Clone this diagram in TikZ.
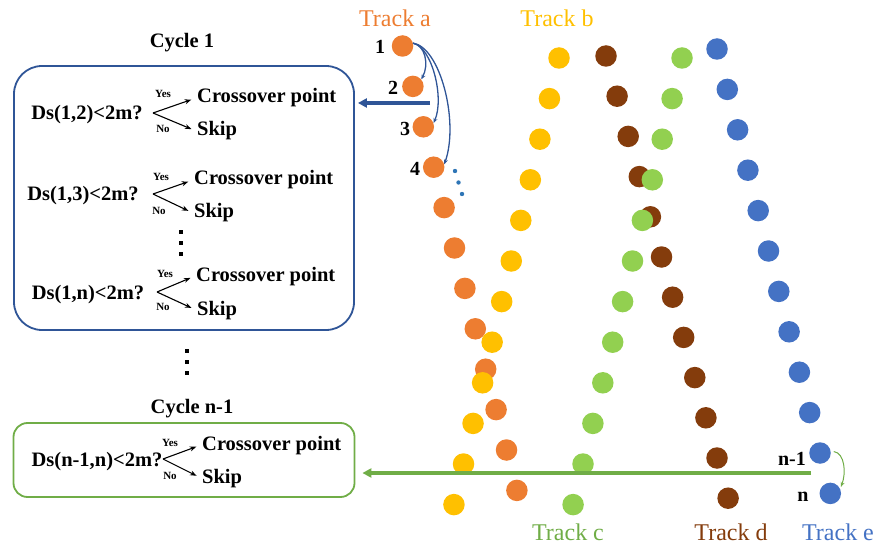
\documentclass[tikz,border=0pt]{standalone}
\usepackage{fontspec}
\setmainfont{Liberation Serif}
\usetikzlibrary{arrows.meta,calc}

\definecolor{trkA}{HTML}{ED7D31}
\definecolor{trkB}{HTML}{FFC000}
\definecolor{trkC}{HTML}{92D050}
\definecolor{trkCtext}{HTML}{70AD47}
\definecolor{trkD}{HTML}{843C0C}
\definecolor{trkE}{HTML}{4472C4}
\definecolor{navy}{HTML}{2F5597}
\definecolor{dotblue}{HTML}{2E75B6}
\definecolor{boxgreen}{HTML}{70AD47}

\begin{document}
\begin{tikzpicture}[x=1pt,y=-1pt,
  pt/.style={circle,inner sep=0pt,minimum size=21.5pt},
  txt/.style={font=\bfseries\fontsize{20.5}{22}\selectfont,inner sep=1pt,text height=14pt,text depth=4pt},
  tiny/.style={font=\bfseries\fontsize{11}{12}\selectfont,inner sep=0pt},
  num/.style={font=\bfseries\fontsize{20}{22}\selectfont,inner sep=0pt},
  trk/.style={font=\fontsize{24}{26}\selectfont,inner sep=0pt},
  fk/.style={line width=1.1pt,-{Stealth[length=6.5pt,width=5pt]},shorten >=5pt},
  sq/.style={rectangle,fill=black,inner sep=0pt,minimum size=3.6pt},
  hop/.style={navy,line width=1.3pt,-{Stealth[length=5pt,width=4pt]}},
]
\useasboundingbox (0,0) rectangle (877,545);

% ---------- tracks of points ----------
\foreach \i in {1,...,12} {
  \node[pt,fill=trkA] (a\i) at ({402.5+(\i-1)*10.4},{46+(\i-1)*40.4}) {};
}
\foreach \i in {1,...,12} {
  \node[pt,fill=trkB] (b\i) at ({559-(\i-1)*9.55},{58+(\i-1)*40.6}) {};
}
\foreach \i in {1,...,12} {
  \node[pt,fill=trkD] (d\i) at ({606+(\i-1)*11.1},{56+(\i-1)*40.2}) {};
}
\foreach \i in {1,...,12} {
  \node[pt,fill=trkC] (c\i) at ({682-(\i-1)*9.9},{58+(\i-1)*40.6}) {};
}
\foreach \i in {1,...,12} {
  \node[pt,fill=trkE] (e\i) at ({717+(\i-1)*10.3},{49+(\i-1)*40.4}) {};
}

% track names
\node[trk,text=trkA] (ta) at (395,18) {Track a};
\node[trk,text=trkB] (tb) at (557,18) {Track b};
\node[trk,text=trkCtext] (tc) at (568,532) {Track c};
\node[trk,text=trkD] (td) at (731,532) {Track d};
\node[trk,text=trkE] (te) at (838,532) {Track e};

% point indices
\node[num] (n1) at (380,47) {1};
\node[num] (n2) at (393,88) {2};
\node[num] (n3) at (405,129) {3};
\node[num] (n4) at (415,169) {4};
\node[num] (nm) at (792,459) {n-1};
\node[num] (nn) at (803,497) {n};

% comparisons from point 1
\draw[hop] (a1.15) .. controls +(12,2) and +(8,-15) .. (a2.40);
\draw[hop] (a1.15) .. controls +(19,4) and +(11,-25) .. (a3.20);
\draw[hop] (a1.15) .. controls +(27,4) and +(15,-43) .. (a4.15);
\foreach \p/\q in {455/171,458.5/182.5,462/194}
  \fill[dotblue] (\p,\q) circle (2.2pt);

% last comparison
\draw[boxgreen,line width=1pt,-{Stealth[length=5pt,width=4pt]},shorten <=3pt,shorten >=2pt]
  (e11.10) .. controls +(14,2) and +(6,-16) .. (e12.25);

% ---------- cycle 1 ----------
\node[txt] (cy1) at (182,43) {Cycle 1};
\node[draw=navy,line width=1.8pt,rounded corners=28pt,minimum width=340pt,minimum height=264pt] (box1) at (184,198) {};

\node[txt] (q1) at (87,115) {Ds(1,2)<2m?};
\coordinate (v1) at (153,113);
\node[txt,anchor=west] (y1) at (196,98) {Crossover point};
\node[txt,anchor=west] (s1) at (196,131) {Skip};
\draw[fk] (v1) -- (y1.west);
\draw[fk] (v1) -- (s1.west);
\node[tiny] at (163,94) {Yes};
\node[tiny] at (163,129) {No};

\node[txt] (q2) at (83,196) {Ds(1,3)<2m?};
\coordinate (v2) at (153,194);
\node[txt,anchor=west] (y2) at (193,180) {Crossover point};
\node[txt,anchor=west] (s2) at (193,213) {Skip};
\draw[fk] (v2) -- (y2.west);
\draw[fk] (v2) -- (s2.west);
\node[tiny] at (161,177) {Yes};
\node[tiny] at (159,211) {No};

\node[sq] at (181,232) {};
\node[sq] at (181,243) {};
\node[sq] at (181,254) {};

\node[txt] (q3) at (88,294) {Ds(1,n)<2m?};
\coordinate (v3) at (157,292);
\node[txt,anchor=west] (y3) at (195,276) {Crossover point};
\node[txt,anchor=west] (s3) at (196,310) {Skip};
\draw[fk] (v3) -- (y3.west);
\draw[fk] (v3) -- (s3.west);
\node[tiny] at (165,274) {Yes};
\node[tiny] at (163,307) {No};

% between cycles
\node[sq] at (187,351) {};
\node[sq] at (187,362) {};
\node[sq] at (187,373) {};

% ---------- cycle n-1 ----------
\node[txt] (cyn) at (192,408) {Cycle n-1};
\node[draw=boxgreen,line width=1.8pt,rounded corners=14pt,minimum width=341pt,minimum height=74pt] (box2) at (184,460) {};

\node[txt] (q4) at (97,461) {Ds(n-1,n)<2m?};
\coordinate (v4) at (163,459);
\node[txt,anchor=west] (y4) at (201,445) {Crossover point};
\node[txt,anchor=west] (s4) at (201,478) {Skip};
\draw[fk] (v4) -- (y4.west);
\draw[fk] (v4) -- (s4.west);
\node[tiny] at (170,443) {Yes};
\node[tiny] at (170,476) {No};

% ---------- feedback arrows into the cycles ----------
\coordinate (bs) at (430,103);
\draw[navy,line width=3.2pt,-{Triangle[length=9pt,width=9pt]},shorten >=3pt] (bs) -- (bs -| box1.east);
\coordinate (gs) at (811,473);
\draw[boxgreen,line width=3.2pt,-{Triangle[length=9pt,width=9pt]},shorten >=7pt] (gs) -- (gs -| box2.east);
\end{tikzpicture}
\end{document}
